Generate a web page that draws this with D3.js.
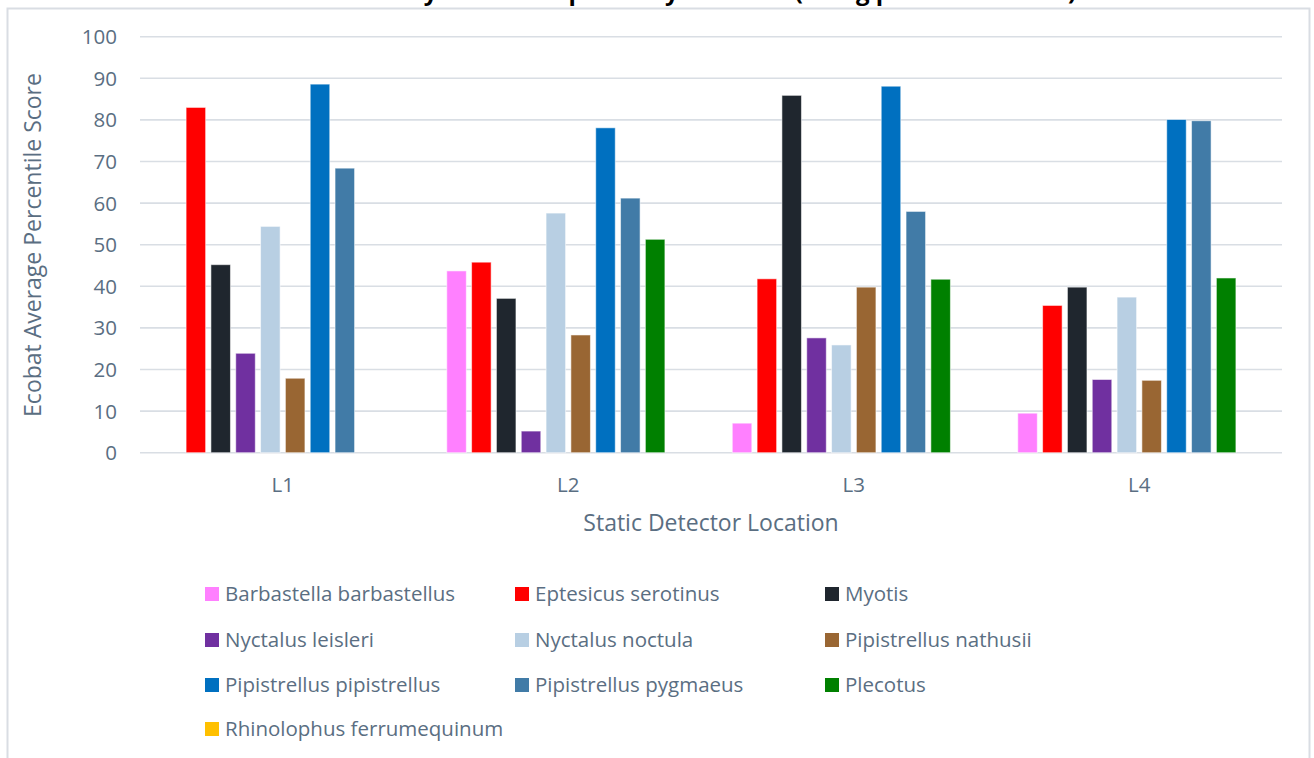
<!DOCTYPE html>
<html>
<head>
<meta charset="utf-8">
<script src="https://cdn.jsdelivr.net/npm/d3@7/dist/d3.min.js"></script>
<style>
  html, body { margin: 0; padding: 0; background: #fff; }
  svg { display: block; font-family: "Open Sans", "Noto Sans", sans-serif; }
</style>
</head>
<body>
<svg id="chart" width="1314" height="758"></svg>
<script>
const locations = ["L1", "L2", "L3", "L4"];
const species = [
  "Barbastella barbastellus", "Eptesicus serotinus", "Myotis",
  "Nyctalus leisleri", "Nyctalus noctula", "Pipistrellus nathusii",
  "Pipistrellus pipistrellus", "Pipistrellus pygmaeus", "Plecotus",
  "Rhinolophus ferrumequinum"
];
const colors = ["#ff80ff", "#ff0000", "#1f262e", "#7030a0", "#b8cfe3",
  "#996633", "#0070c0", "#417ba7", "#008000", "#ffc000"];
// values per species, in order L1..L4
const barbastella = [0, 43.7, 7.1, 9.5];
const eptesicus   = [83.0, 45.8, 41.8, 35.4];
const myotis      = [45.2, 37.1, 85.9, 39.8];
const leisleri    = [23.9, 5.2, 27.6, 17.6];
const noctula     = [54.4, 57.6, 25.9, 37.4];
const nathusii    = [17.9, 28.3, 39.8, 17.4];
const pipistrellus= [88.6, 78.1, 88.1, 80.1];
const pygmaeus    = [68.4, 61.2, 58.0, 79.8];
const plecotus    = [0, 51.3, 41.7, 42.0];
const rhinolophus = [0, 0, 0, 0];
const yTicks = [0, 10, 20, 30, 40, 50, 60, 70, 80, 90, 100];

const seriesValues = [barbastella, eptesicus, myotis, leisleri, noctula,
  nathusii, pipistrellus, pygmaeus, plecotus, rhinolophus];

const textColor = "#5a6e82";
const gridColor = "#d9dee4";
const svg = d3.select("#chart");

// outer border
svg.append("rect").attr("x", 7.5).attr("y", 8.5).attr("width", 1302).attr("height", 760)
  .attr("fill", "none").attr("stroke", "#d9dde3").attr("stroke-width", 2);

// title (clipped at top edge, as in the reference)
svg.append("text").attr("x", 711).attr("y", 0).attr("text-anchor", "middle")
  .attr("font-size", 24).attr("font-weight", "bold").attr("fill", "#000")
  .text("Activity Levels of Species by Location (Using percentile score)");

const x0 = d3.scaleBand().domain(locations).range([140, 1282])
  .paddingInner(0.149).paddingOuter(0.0745);
const x1 = d3.scaleBand().domain(species).range([0, x0.bandwidth()])
  .paddingInner(0.213).paddingOuter(0);
const y = d3.scaleLinear().domain([0, 100]).range([452.7, 36.7]);

// gridlines
svg.append("g").selectAll("line").data(yTicks).join("line")
  .attr("x1", 140).attr("x2", 1282)
  .attr("y1", d => y(d)).attr("y2", d => y(d))
  .attr("stroke", gridColor).attr("stroke-width", 1.6);

// y axis labels
const yAxis = d3.axisLeft(y).tickValues(yTicks).tickSize(0).tickPadding(0);
const yg = svg.append("g").attr("transform", "translate(117,0)").call(yAxis);
yg.select(".domain").remove();
yg.selectAll("text").attr("font-size", 20.5).attr("fill", textColor)
  .attr("font-family", "Open Sans, sans-serif").attr("dy", "0.34em");

// bars
const groups = svg.append("g").selectAll("g").data(locations).join("g")
  .attr("transform", d => `translate(${x0(d)},0)`);
groups.selectAll("rect")
  .data((loc, li) => species.map((s, si) => ({ s, si, v: seriesValues[si][li] })))
  .join("rect")
  .filter(d => d.v > 0)
  .attr("x", d => x1(d.s))
  .attr("width", x1.bandwidth())
  .attr("y", d => y(d.v))
  .attr("height", d => y(0) - y(d.v))
  .attr("fill", d => colors[d.si])
  .attr("stroke", "#ffffff").attr("stroke-opacity", 0.55).attr("stroke-width", 1);

// x axis labels
const xAxis = d3.axisBottom(x0).tickSize(0).tickPadding(0);
const xg = svg.append("g").attr("transform", "translate(0,485)").call(xAxis);
xg.select(".domain").remove();
xg.selectAll("text").attr("font-size", 20.5).attr("fill", textColor)
  .attr("font-family", "Open Sans, sans-serif").attr("dy", "0.34em");

// axis titles
svg.append("text").attr("x", 711).attr("y", 531).attr("text-anchor", "middle")
  .attr("font-size", 23).attr("fill", textColor).text("Static Detector Location");
svg.append("text").attr("transform", "translate(41,245) rotate(-90)")
  .attr("text-anchor", "middle").attr("font-size", 23).attr("fill", textColor)
  .text("Ecobat Average Percentile Score");

// legend
const legCols = [205, 515, 825];
const legRows = [594, 640, 685, 729];
const leg = svg.append("g").selectAll("g").data(species).join("g")
  .attr("transform", (d, i) => `translate(${legCols[i % 3]},${legRows[Math.floor(i / 3)]})`);
leg.append("rect").attr("x", 0).attr("y", -7).attr("width", 14).attr("height", 14)
  .attr("fill", (d, i) => colors[i]);
leg.append("text").attr("x", 20).attr("y", 0).attr("dy", "0.35em")
  .attr("font-size", 20.5).attr("fill", textColor).text(d => d);
</script>
</body>
</html>
